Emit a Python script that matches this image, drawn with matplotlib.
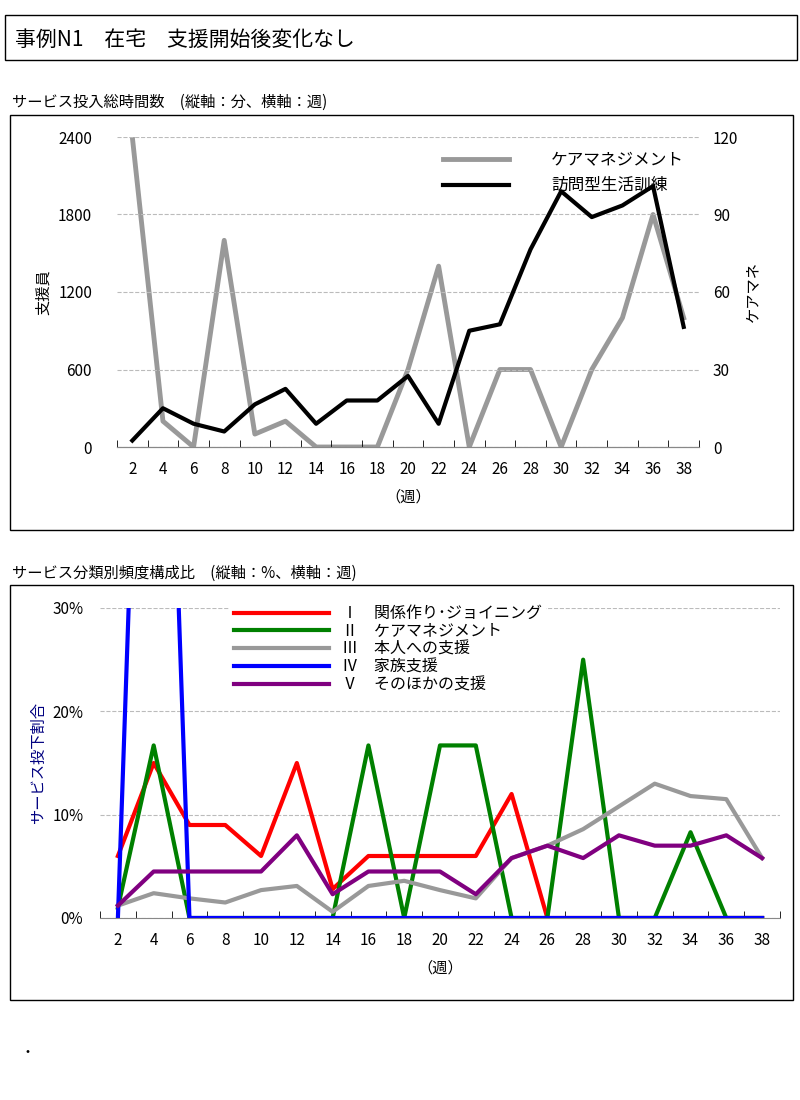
import matplotlib.pyplot as plt
from matplotlib.patches import Rectangle
from matplotlib.ticker import FuncFormatter

plt.rcParams['font.family'] = 'Noto Sans CJK JP'

weeks = list(range(2, 40, 2))
# top chart
houmon = [50, 300, 180, 120, 330, 450, 180, 360, 360, 550, 180, 900, 950, 1530, 1980, 1780, 1870, 2020, 930]
caremane = [120, 10, 0, 80, 5, 10, 0, 0, 0, 30, 70, 0, 30, 30, 0, 30, 50, 90, 50]
# bottom chart (%)
s1 = [6, 15, 9, 9, 6, 15, 2.8, 6, 6, 6, 6, 12, 0, 0, 0, 0, 0, 0, 0]
s2 = [1, 16.7, 0, 0, 0, 0, 0, 16.7, 0, 16.7, 16.7, 0, 0, 25, 0, 0, 8.3, 0, 0]
s3 = [1.2, 2.4, 1.9, 1.5, 2.7, 3.1, 0.6, 3.1, 3.6, 2.7, 1.9, 5.8, 7, 8.6, 10.8, 13, 11.8, 11.5, 5.8]
s4 = [0, 100, 0, 0, 0, 0, 0, 0, 0, 0, 0, 0, 0, 0, 0, 0, 0, 0, 0]
s5 = [1.2, 4.5, 4.5, 4.5, 4.5, 8, 2.3, 4.5, 4.5, 4.5, 2.3, 5.8, 7, 5.8, 8, 7, 7, 8, 5.8]
labels2 = ['Ⅰ　関係作り･ジョイニング', 'Ⅱ　ケアマネジメント', 'Ⅲ　本人への支援', 'Ⅳ　家族支援', 'Ⅴ　そのほかの支援']
colors2 = ['#ff0000', '#008000', '#999999', '#0000ff', '#800080']

fig = plt.figure(figsize=(8, 11), dpi=100)
W, H = 800, 1100

def box(x0, y0, x1, y1):
    fig.patches.append(Rectangle((x0 / W, 1 - y1 / H), (x1 - x0) / W, (y1 - y0) / H,
                                 transform=fig.transFigure, fill=False, lw=1, ec='black'))

def ax_at(x0, y0, x1, y1):
    return fig.add_axes([x0 / W, 1 - y1 / H, (x1 - x0) / W, (y1 - y0) / H])

box(5, 15, 797, 60)
fig.text(15 / W, 1 - 40 / H, '事例N1　在宅　支援開始後変化なし', fontsize=15, va='center')

# ---- top chart
box(10, 115, 793, 530)
fig.text(12 / W, 1 - 102 / H, 'サービス投入総時間数　(縦軸：分、横軸：週)', fontsize=11, va='center')
ax = ax_at(117, 137, 699, 447)
xs = range(len(weeks))
ax2 = ax.twinx()
ax2.plot(xs, caremane, color='#999999', lw=3.5, label='ケアマネジメント')
ax.plot(xs, houmon, color='black', lw=3, label='訪問型生活訓練')
ax.set_zorder(ax2.get_zorder() + 1)
ax.patch.set_visible(False)
ax.set_ylim(0, 2400)
ax2.set_ylim(0, 120)
ax.set_yticks([0, 600, 1200, 1800, 2400])
ax2.set_yticks([0, 30, 60, 90, 120])
ax.set_xlim(-0.5, len(weeks) - 0.5)
ax.set_xticks(list(xs))
ax.set_xticklabels(weeks)
ax.set_xticks([i - 0.5 for i in range(len(weeks) + 1)], minor=True)
ax.tick_params(axis='x', which='major', length=0, pad=10, labelsize=11)
ax.tick_params(axis='x', which='minor', length=5, direction='in')
ax.tick_params(axis='y', length=0, pad=18, labelsize=11)
ax2.tick_params(axis='y', length=0, pad=10, labelsize=11)
ax.grid(axis='y', ls='--', color='#bbbbbb', lw=0.8)
for a in (ax, ax2):
    for s in ['top', 'left', 'right']:
        a.spines[s].set_visible(False)
    a.spines['bottom'].set_color('#888888')
ax.set_ylabel('支援員', fontsize=11)
ax2.set_ylabel('ケアマネ', fontsize=11)
ax.set_xlabel('（週）', fontsize=11, labelpad=8)
h1, l1 = ax2.get_legend_handles_labels()
h2, l2 = ax.get_legend_handles_labels()
ax.legend(h1 + h2, l1 + l2, loc='upper right', bbox_to_anchor=(1.0, 1.0), frameon=False,
          fontsize=12, handlelength=4, handletextpad=2.5, labelspacing=0.5)

# ---- bottom chart
box(10, 585, 793, 1000)
fig.text(12 / W, 1 - 573 / H, 'サービス分類別頻度構成比　(縦軸：%、横軸：週)', fontsize=11, va='center')
bx = ax_at(100, 608, 780, 918)
for vals, c, lab in zip([s1, s2, s3, s4, s5], colors2, labels2):
    bx.plot(xs, vals, color=c, lw=3, label=lab)
bx.set_ylim(0, 30)
bx.set_yticks([0, 10, 20, 30])
bx.yaxis.set_major_formatter(FuncFormatter(lambda v, p: f'{int(v)}%'))
bx.set_xlim(-0.5, len(weeks) - 0.5)
bx.set_xticks(list(xs))
bx.set_xticklabels(weeks)
bx.set_xticks([i - 0.5 for i in range(len(weeks) + 1)], minor=True)
bx.tick_params(axis='x', which='major', length=0, pad=10, labelsize=11)
bx.tick_params(axis='x', which='minor', length=5, direction='in')
bx.tick_params(axis='y', length=0, pad=12, labelsize=11)
bx.grid(axis='y', ls='--', color='#bbbbbb', lw=0.8)
for s in ['top', 'left', 'right']:
    bx.spines[s].set_visible(False)
bx.spines['bottom'].set_color('#888888')
bx.set_ylabel('サービス投下割合', fontsize=11, color='#000080')
bx.set_xlabel('（週）', fontsize=11, labelpad=8)
leg = bx.legend(loc='upper left', bbox_to_anchor=(0.18, 1.045), fontsize=11.5, handlelength=6,
                labelspacing=0.05, framealpha=1, edgecolor='white', fancybox=False, borderpad=0.2)

fig.text(20 / W, 1 - 1053 / H, '・', fontsize=10, va='center')

fig.savefig('out.png', dpi=100)
